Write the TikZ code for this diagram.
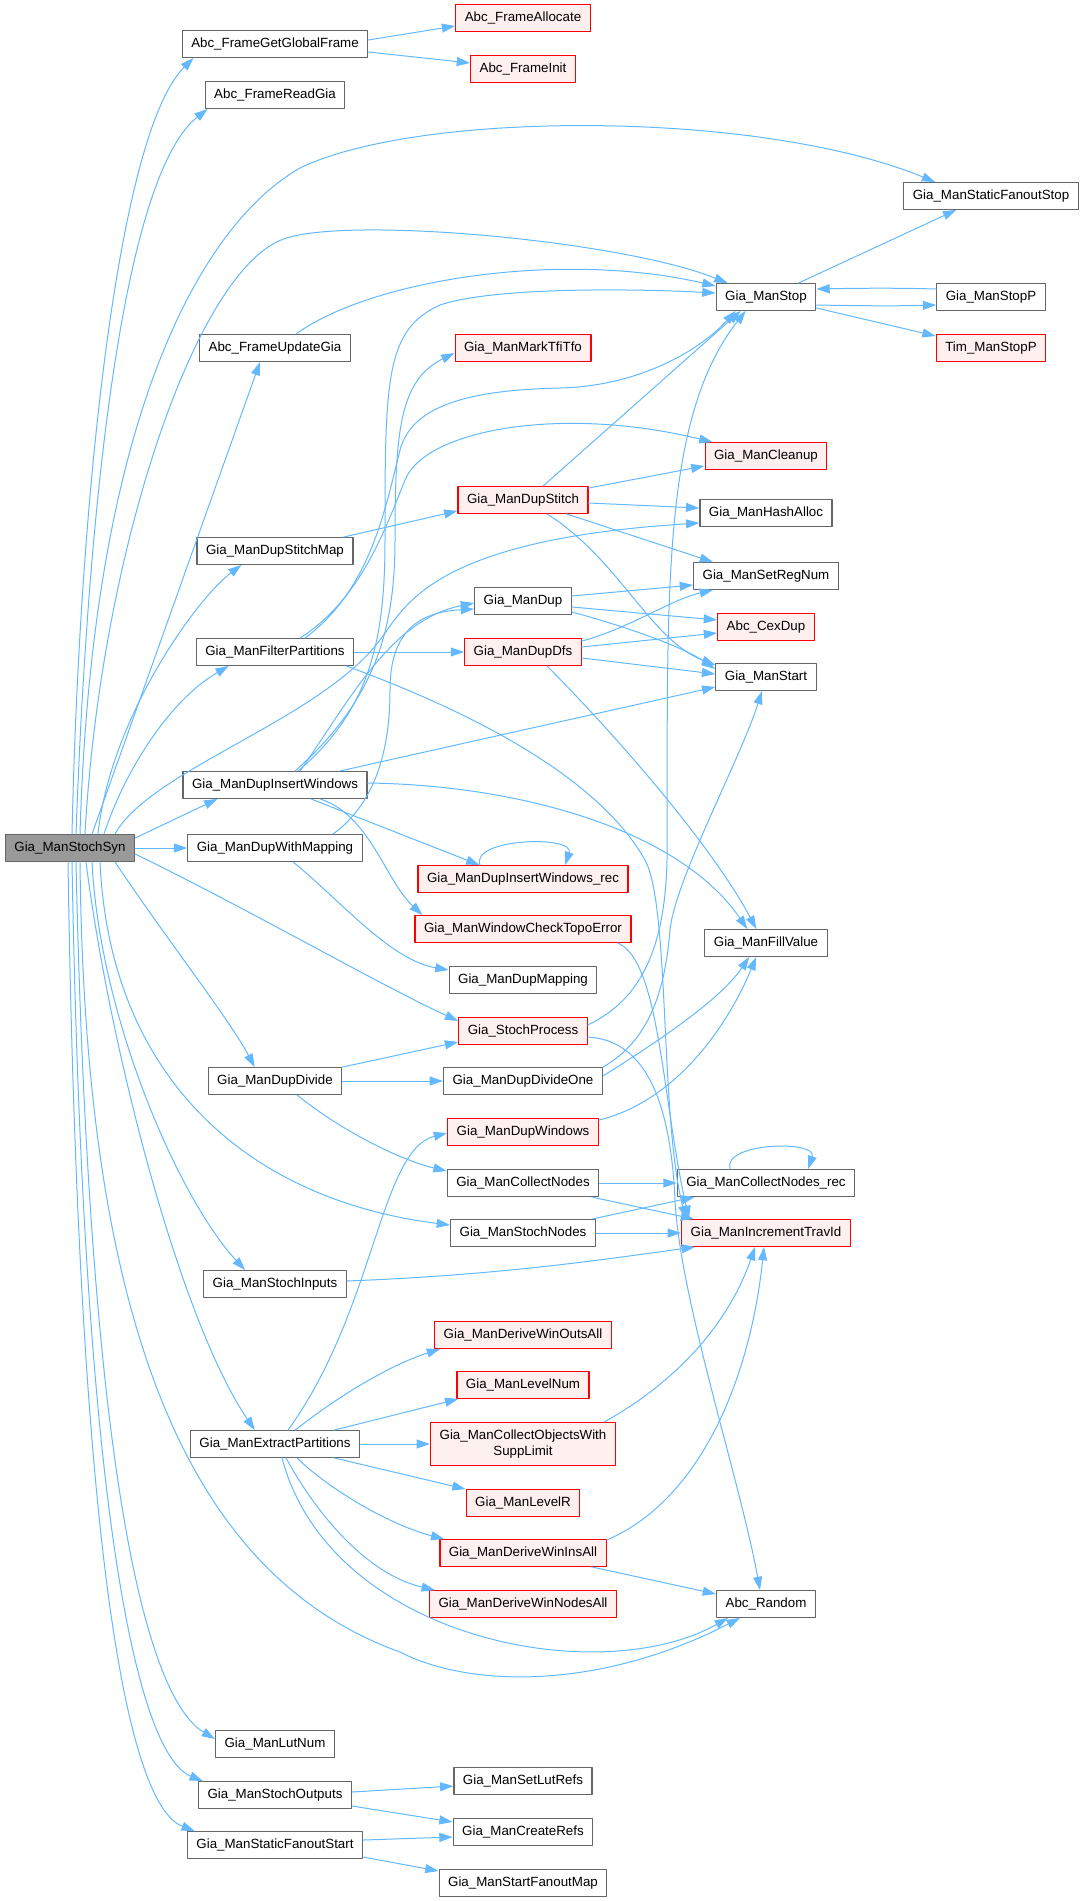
\documentclass[tikz,border=0pt]{standalone}
\usepackage{fontspec}
\setmainfont{Liberation Sans}
\usetikzlibrary{arrows.meta,calc}
\definecolor{grey40}{HTML}{666666}
\definecolor{grey60}{HTML}{999999}
\definecolor{edgeblue}{HTML}{63B8FF}
\definecolor{redfill}{HTML}{FFF0F0}
\tikzset{
  fn/.style={draw=grey40, fill=white, line width=0.9pt, font=\fontsize{10}{11.5}\selectfont,
    inner xsep=6.75pt, inner ysep=0pt, minimum height=20pt},
  fnred/.style={fn, draw=red, fill=redfill},
  calls/.style={draw=edgeblue, line width=0.75pt, -{Triangle[length=10pt,width=6.7pt]}},
}
\begin{document}
\begin{tikzpicture}[x=0.75pt,y=-0.75pt,line cap=round,line join=round]
\useasboundingbox (0,0) rectangle (1083,1901);
% root
\node[fn,fill=grey60] (S) at (70,848) {Gia\_ManStochSyn};
% rank 1
\node[fn] (gg) at (275,44) {Abc\_FrameGetGlobalFrame};
\node[fn] (rg) at (275,95) {Abc\_FrameReadGia};
\node[fn] (ug) at (275,348) {Abc\_FrameUpdateGia};
\node[fn] (dsm) at (275,551) {Gia\_ManDupStitchMap};
\node[fn] (fp) at (275,652) {Gia\_ManFilterPartitions};
\node[fn] (diw) at (275,785) {Gia\_ManDupInsertWindows};
\node[fn] (dwm) at (275,848) {Gia\_ManDupWithMapping};
\node[fn] (dd) at (275,1081) {Gia\_ManDupDivide};
\node[fn] (si) at (275,1284) {Gia\_ManStochInputs};
\node[fn] (ep) at (275,1444) {Gia\_ManExtractPartitions};
\node[fn] (ln) at (275,1744) {Gia\_ManLutNum};
\node[fn] (so) at (275,1795) {Gia\_ManStochOutputs};
\node[fn] (sfs) at (275,1845) {Gia\_ManStaticFanoutStart};
% rank 2
\node[fnred] (fa) at (523,18) {Abc\_FrameAllocate};
\node[fnred] (fi) at (523,69) {Abc\_FrameInit};
\node[fnred] (mtt) at (523,348) {Gia\_ManMarkTfiTfo};
\node[fnred] (dst) at (523,500) {Gia\_ManDupStitch};
\node[fn] (dup) at (523,601) {Gia\_ManDup};
\node[fnred] (dfs) at (523,652) {Gia\_ManDupDfs};
\node[fnred] (diwr) at (523,879) {Gia\_ManDupInsertWindows\_rec};
\node[fnred] (wct) at (523,929) {Gia\_ManWindowCheckTopoError};
\node[fn] (dm) at (523,980) {Gia\_ManDupMapping};
\node[fnred] (sp) at (523,1031) {Gia\_StochProcess};
\node[fn] (ddo) at (523,1081) {Gia\_ManDupDivideOne};
\node[fnred] (dw) at (523,1132) {Gia\_ManDupWindows};
\node[fn] (cn) at (523,1183) {Gia\_ManCollectNodes};
\node[fn] (sn) at (523,1233) {Gia\_ManStochNodes};
\node[fnred] (dwo) at (523,1335) {Gia\_ManDeriveWinOutsAll};
\node[fnred] (lvn) at (523,1385) {Gia\_ManLevelNum};
\node[fnred,align=center,minimum height=32pt] (cos) at (523,1444) {Gia\_ManCollectObjectsWith\\SuppLimit};
\node[fnred] (lvr) at (523,1503) {Gia\_ManLevelR};
\node[fnred] (dwi) at (523,1553) {Gia\_ManDeriveWinInsAll};
\node[fnred] (dwn) at (523,1604) {Gia\_ManDeriveWinNodesAll};
\node[fn] (slr) at (523,1781) {Gia\_ManSetLutRefs};
\node[fn] (cr) at (523,1832) {Gia\_ManCreateRefs};
\node[fn] (sfm) at (523,1883) {Gia\_ManStartFanoutMap};
% rank 3
\node[fn] (stop) at (766,297) {Gia\_ManStop};
\node[fnred] (cl) at (766,456) {Gia\_ManCleanup};
\node[fn] (ha) at (766,513) {Gia\_ManHashAlloc};
\node[fn] (srn) at (766,576) {Gia\_ManSetRegNum};
\node[fnred] (cex) at (766,627) {Abc\_CexDup};
\node[fn] (st) at (766,677) {Gia\_ManStart};
\node[fn] (fv) at (766,943) {Gia\_ManFillValue};
\node[fn] (cnr) at (766,1183) {Gia\_ManCollectNodes\_rec};
\node[fnred] (itv) at (766,1233) {Gia\_ManIncrementTravId};
\node[fn] (rnd) at (766,1604) {Abc\_Random};
% rank 4
\node[fn] (sfst) at (991,196) {Gia\_ManStaticFanoutStop};
\node[fn] (stp) at (991,297) {Gia\_ManStopP};
\node[fnred] (tim) at (991,348) {Tim\_ManStopP};

% calls of Gia_ManStochSyn
\draw[calls] ($(S.north)+(2,0)$) .. controls (80,480) and (120,130) .. ($(gg.south west)+(12,0)$);
\draw[calls] ($(S.north)+(6,0)$) .. controls (90,450) and (130,170) .. ($(rg.south west)+(3,0)$);
\draw[calls] ($(S.north)+(10,0)$) .. controls (92,420) and (200,225) .. (300,168) .. controls (420,110) and (760,110) .. ($(sfst.north west)+(32,0)$);
\draw[calls] ($(S.north)+(15,0)$) .. controls (100,560) and (192,277) .. (281,240) .. controls (340,215) and (620,240) .. ($(stop.north west)+(12,0)$);
\draw[calls] ($(S.north)+(22,0)$) -- ($(ug.south)+(-15,0)$);
\draw[calls] ($(S.north)+(28,0)$) .. controls (110,720) and (195,600) .. ($(dsm.south west)+(45,0)$);
\draw[calls] ($(S.north)+(34,0)$) .. controls (125,770) and (170,700) .. ($(fp.south west)+(33,0)$);
\draw[calls] ($(S.north)+(45,0)$) .. controls (150,770) and (320,720) .. (380,640) .. controls (405,607) and (430,540) .. ($(ha.west)+(0,10)$);
\draw[calls] ($(S.east)+(0,-10)$) -- ($(diw.south west)+(35,0)$);
\draw[calls] (S.east) -- (dwm.west);
\draw[calls] ($(S.east)+(0,6)$) .. controls (250,910) and (380,985) .. ($(sp.west)+(0,-10)$);
\draw[calls] ($(S.south)+(45,0)$) .. controls (160,930) and (230,1020) .. ($(dd.north west)+(47,0)$);
\draw[calls] ($(S.south)+(30,0)$) .. controls (110,1080) and (250,1200) .. ($(sn.west)+(0,-8)$);
\draw[calls] ($(S.south)+(22,0)$) .. controls (100,1020) and (180,1200) .. ($(si.north west)+(42,0)$);
\draw[calls] ($(S.south)+(16,0)$) .. controls (110,1050) and (180,1320) .. ($(ep.north west)+(65,0)$);
\draw[calls] ($(S.south)+(10,0)$) .. controls (85,1350) and (200,1580) .. (400,1652) .. controls (470,1688) and (600,1690) .. ($(rnd.south west)+(24,0)$);
\draw[calls] ($(S.south)+(6,0)$) .. controls (90,1500) and (150,1700) .. ($(ln.west)+(0,-5)$);
\draw[calls] ($(S.south)+(2,0)$) .. controls (85,1600) and (150,1760) .. ($(so.north west)+(5,0)$);
\draw[calls] ($(S.south)+(-2,0)$) .. controls (80,1650) and (140,1810) .. ($(sfs.north west)+(8,0)$);

% rank 1 to the right
\draw[calls] ($(gg.east)+(0,-4)$) -- ($(fa.west)+(0,8)$);
\draw[calls] ($(gg.east)+(0,8)$) -- ($(fi.west)+(0,-6)$);
\draw[calls] ($(ug.north)+(21,0)$) .. controls (370,280) and (560,250) .. ($(stop.west)+(0,-11)$);
\draw[calls] ($(dsm.north east)+(-10,0)$) -- ($(dst.south west)+(0,-3)$);
\draw[calls] ($(fp.north)+(25,0)$) .. controls (360,600) and (385,530) .. (405,480) .. controls (425,430) and (560,405) .. ($(cl.north west)+(8,0)$);
\draw[calls] ($(fp.north)+(30,0)$) .. controls (370,590) and (385,510) .. (400,450) .. controls (412,405) and (470,390) .. (560,388) .. controls (640,386) and (700,350) .. ($(stop.south west)+(20,0)$);
\draw[calls] (fp.east) -- (dfs.west);
\draw[calls] ($(fp.south east)+(-8,0)$) .. controls (480,715) and (600,780) .. (645,860) .. controls (670,905) and (660,1120) .. ($(itv.north west)+(5,0)$);
\draw[calls] ($(diw.north)+(23,0)$) .. controls (370,710) and (385,640) .. (385,540) .. controls (385,380) and (385,330) .. (440,305) .. controls (490,288) and (620,288) .. ($(stop.west)+(0,-4)$);
\draw[calls] ($(diw.north)+(20,0)$) .. controls (375,700) and (395,630) .. (395,540) .. controls (395,430) and (400,380) .. ($(mtt.west)+(0,5)$);
\draw[calls] ($(diw.north)+(25,0)$) .. controls (350,700) and (390,620) .. ($(dup.west)+(0,2)$);
\draw[calls] ($(diw.north east)+(-28,0)$) -- ($(st.west)+(0,10)$);
\draw[calls] ($(diw.east)+(0,-2)$) .. controls (520,785) and (680,830) .. ($(fv.north west)+(43,0)$);
\draw[calls] ($(diw.south)+(36,0)$) -- ($(diwr.north west)+(62,0)$);
\draw[calls] ($(diw.south)+(45,0)$) .. controls (370,815) and (385,880) .. ($(wct.north west)+(8,0)$);
\draw[calls] ($(dwm.north)+(58,0)$) .. controls (380,800) and (390,740) .. (390,690) .. controls (390,630) and (420,612) .. ($(dup.west)+(0,8)$);
\draw[calls] ($(dwm.south)+(18,0)$) .. controls (340,900) and (390,960) .. ($(dm.west)+(0,-10)$);
\draw[calls] (dd.north east) -- ($(sp.west)+(0,11)$);
\draw[calls] (dd.east) -- (ddo.west);
\draw[calls] ($(dd.south)+(22,0)$) .. controls (340,1130) and (400,1160) .. ($(cn.west)+(0,-12)$);
\draw[calls] ($(si.east)+(0,-3)$) .. controls (500,1275) and (600,1260) .. ($(itv.south west)+(14,0)$);
\draw[calls] ($(ep.north)+(13,0)$) .. controls (375,1310) and (380,1150) .. ($(dw.west)+(0,1)$);
\draw[calls] ($(ep.north)+(20,0)$) .. controls (340,1395) and (390,1365) .. ($(dwo.south west)+(6,0)$);
\draw[calls] ($(ep.north east)+(-26,0)$) -- ($(lvn.south west)+(2,0)$);
\draw[calls] (ep.east) -- (cos.west);
\draw[calls] ($(ep.south east)+(-26,0)$) -- (lvr.north west);
\draw[calls] ($(ep.south)+(22,0)$) .. controls (330,1490) and (390,1525) .. ($(dwi.north west)+(5,0)$);
\draw[calls] ($(ep.south)+(11,0)$) .. controls (320,1520) and (370,1575) .. ($(dwn.north west)+(6,0)$);
\draw[calls] ($(ep.south)+(7,0)$) .. controls (330,1640) and (600,1690) .. ($(rnd.south west)+(12,0)$);
\draw[calls] ($(so.east)+(0,-3)$) -- ($(slr.west)+(0,5)$);
\draw[calls] ($(so.east)+(0,11)$) -- ($(cr.west)+(0,-10)$);
\draw[calls] ($(sfs.east)+(0,-5)$) -- ($(cr.west)+(0,5)$);
\draw[calls] ($(sfs.east)+(0,12)$) -- ($(sfm.west)+(0,-12)$);

% rank 2 to the right
\draw[calls] ($(dst.north)+(20,0)$) -- ($(stop.south west)+(25,0)$);
\draw[calls] ($(dst.north east)+(0,2)$) -- ($(cl.south west)+(0,-4)$);
\draw[calls] ($(dst.east)+(0,3)$) -- ($(ha.west)+(0,-5)$);
\draw[calls] ($(dst.south east)+(-22,0)$) -- ($(srn.north west)+(20,0)$);
\draw[calls] ($(dst.south)+(24,0)$) .. controls (620,560) and (650,640) .. ($(st.west)+(0,-12)$);
\draw[calls] ($(dup.east)+(0,-5)$) -- ($(srn.west)+(0,9)$);
\draw[calls] ($(dup.east)+(0,6)$) -- ($(cex.west)+(0,-7)$);
\draw[calls] ($(dup.east)+(0,11)$) .. controls (620,625) and (680,645) .. ($(st.west)+(0,-8)$);
\draw[calls] ($(dfs.north east)+(0,3)$) .. controls (630,628) and (670,600) .. ($(srn.south west)+(20,0)$);
\draw[calls] ($(dfs.east)+(0,-5)$) -- ($(cex.west)+(0,6)$);
\draw[calls] ($(dfs.east)+(0,6)$) -- ($(st.west)+(0,-3)$);
\draw[calls] ($(dfs.south)+(24,0)$) .. controls (640,760) and (720,860) .. ($(fv.north west)+(52,0)$);
\draw[calls] ($(diwr.north)+(-43,0)$) .. controls (470,838) and (575,835) .. ($(diwr.north)+(42,0)$);
\draw[calls] ($(wct.south east)+(-14,0)$) .. controls (660,960) and (662,1100) .. ($(itv.north west)+(8,0)$);
\draw[calls] ($(sp.east)+(0,-6)$) .. controls (640,1000) and (665,950) .. (667,860) .. controls (668,600) and (660,420) .. ($(stop.south west)+(30,0)$);
\draw[calls] ($(sp.east)+(0,6)$) .. controls (640,1040) and (670,1090) .. (675,1200) .. controls (680,1300) and (740,1480) .. ($(rnd.north)+(-6,0)$);
\draw[calls] (ddo.north east) .. controls (650,1040) and (665,990) .. (670,930) .. controls (675,880) and (740,760) .. ($(st.south)+(-4,0)$);
\draw[calls] ($(ddo.east)+(0,-5)$) .. controls (660,1040) and (720,1000) .. ($(fv.south west)+(45,0)$);
\draw[calls] ($(dw.north east)+(0,2)$) .. controls (680,1100) and (730,1020) .. ($(fv.south west)+(52,0)$);
\draw[calls] (cn.east) -- (cnr.west);
\draw[calls] ($(cn.south east)+(-8,0)$) -- ($(itv.north west)+(13,0)$);
\draw[calls] ($(sn.north east)+(-4,0)$) -- ($(cnr.south west)+(18,0)$);
\draw[calls] (sn.east) -- (itv.west);
\draw[calls] ($(cos.north east)+(-12,0)$) .. controls (680,1380) and (730,1320) .. ($(itv.south)+(-11,0)$);
\draw[calls] ($(dwi.north east)+(0,1)$) .. controls (700,1500) and (750,1380) .. ($(itv.south)+(-2,0)$);
\draw[calls] ($(dwi.south east)+(-15,0)$) -- ($(rnd.west)+(0,-10)$);

% rank 3 to the right
\draw[calls] ($(stop.north east)+(-18,0)$) -- ($(sfst.south west)+(53,0)$);
\draw[calls] ($(stop.east)+(0,8)$) .. controls (870,306) and (900,306) .. ($(stp.west)+(0,8)$);
\draw[calls] ($(stp.west)+(0,-8)$) .. controls (900,288) and (870,288) .. ($(stop.east)+(0,-8)$);
\draw[calls] ($(stop.east)+(0,11)$) -- ($(tim.west)+(0,-12)$);
\draw[calls] ($(cnr.north)+(-36,0)$) .. controls (722,1142) and (818,1140) .. ($(cnr.north)+(42,0)$);
\end{tikzpicture}
\end{document}
